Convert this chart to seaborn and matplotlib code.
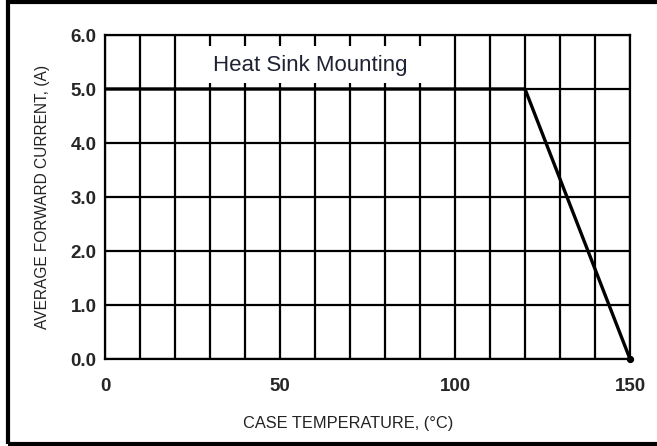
import matplotlib
matplotlib.use("Agg")
import matplotlib.pyplot as plt
import seaborn as sns
import pandas as pd
from matplotlib.patches import Rectangle

# derating curve
case_temp = [0, 120, 150]
avg_current = [5.0, 5.0, 0.0]
x_ticks = [0, 50, 100, 150]
y_ticks = [0.0, 1.0, 2.0, 3.0, 4.0, 5.0, 6.0]
x_grid = list(range(0, 151, 10))
curve_label = "Heat Sink Mounting"

sns.set_style("white")
plt.rcParams["font.family"] = ["Liberation Sans", "DejaVu Sans"]

df = pd.DataFrame({"temp": case_temp, "current": avg_current})

fig = plt.figure(figsize=(6.57, 4.46), dpi=100)
ax = fig.add_axes([105 / 657, 1 - 359 / 446, 525 / 657, 324 / 446])

sns.lineplot(data=df, x="temp", y="current", color="black", linewidth=2.4, ax=ax, zorder=4)
ax.scatter([case_temp[-1]], [avg_current[-1]], s=18, color="black", zorder=5, clip_on=False)

ax.set_xlim(0, 150)
ax.set_ylim(0, 6)
ax.set_xticks(x_ticks)
ax.set_xticks(x_grid, minor=True)
ax.set_yticks(y_ticks)
ax.set_xticklabels([str(t) for t in x_ticks], fontweight="bold", fontsize=13.5)
ax.set_yticklabels([f"{t:.1f}" for t in y_ticks], fontweight="bold", fontsize=13.5)
ax.tick_params(axis="both", which="both", length=0)
ax.tick_params(axis="x", pad=14)
ax.tick_params(axis="y", pad=6)

ax.grid(True, which="both", axis="x", color="black", linewidth=1.6)
ax.grid(True, which="major", axis="y", color="black", linewidth=1.6)
ax.set_axisbelow(True)
for sp in ax.spines.values():
    sp.set_color("black")
    sp.set_linewidth(1.6)

# white label panel that interrupts the grid
ax.add_patch(Rectangle((28.6, 5.11), 62.8, 0.69, facecolor="white", edgecolor="none", zorder=2.5))
ax.text(58.6, 5.43, curve_label, fontsize=16, color="#1f2233", ha="center", va="center", zorder=3)

ax.set_xlabel("CASE TEMPERATURE, (°C)", fontsize=11.8, color="#222222")
ax.set_ylabel("AVERAGE FORWARD CURRENT, (A)", fontsize=11.2, color="#222222", labelpad=15)
ax.xaxis.set_label_coords(0.463, -0.177)

# outer frame of the datasheet figure
fig.patches.append(Rectangle((7.5 / 657, 2 / 446), 660 / 657, 442.5 / 446, transform=fig.transFigure,
                             fill=False, edgecolor="black", linewidth=3, zorder=10))

fig.savefig("out.png", dpi=100)
